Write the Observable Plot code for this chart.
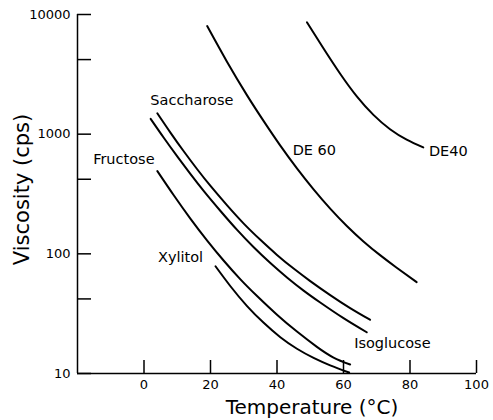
<!DOCTYPE html>
<html><head><meta charset="utf-8">
<script src="https://cdn.jsdelivr.net/npm/d3@7"></script>
<script src="https://cdn.jsdelivr.net/npm/@observablehq/plot@0.6"></script>
<style>body{margin:0;background:#fff} #chart{width:493px;height:420px}</style>
</head><body><div id="chart"></div>
<script>
// Temperature (°C), viscosity (cps)
const de40 = [[49,8600],[54,5200],[59,3200],[64,2070],[69,1450],[74,1100],[79,900],[84,775]];
const de60 = [[19,8000],[25,4010],[31,2110],[36,1285],[41,802],[46,518],[51,346],[56,239],[61,171],[66,127],[71,97.5],[76,76.6],[82,58]];
const saccharose = [[4,1496],[8,1026],[12,716],[16,509],[20,369],[25,254],[30,179],[35,131],[40,98],[45,75.3],[50,59.2],[56,45.2],[62,35.2],[68,28.1]];
const isoglucose = [[2,1343],[6,929],[10,652],[14,463],[18,334],[23,228],[28,158.5],[33,113.5],[38,83.8],[43,63.5],[48,49.3],[53,39.2],[60,29],[67,22.1]];
const fructose = [[4,492],[9,307],[14,196],[19,129],[24,87.5],[29,61.2],[34,44.4],[40,31],[46,22.4],[52,16.7],[57,13.6],[62,11.9]];
const xylitol = [[21.5,78.7],[26,53.6],[31,36.6],[36,26.5],[41,20.1],[46,16.1],[51,13.5],[56,11.7],[61.7,10.2]];

const seriesNames = ["DE 40","DE 60","Saccharose","Isoglucose","Fructose","Xylitol"];
const seriesData = [de40, de60, saccharose, isoglucose, fructose, xylitol];

// label anchors (temperature, viscosity)
const labelText = ["DE40","DE 60","Saccharose","Isoglucose","Fructose","Xylitol"];
const labelT = [85.7, 44.7, 1.9, 63.2, -15.3, 4.2];
const labelV = [714, 730, 1910, 17.9, 610, 93.5];

const xDomain = [-20, 100];
const yDomain = [10, 10000];
const xTicks = [0, 20, 40, 60, 80, 100];
const yMajor = [10, 100, 1000, 10000];
const yMinor = [42, 420, 4200];

const rows = seriesData.flatMap((pts, i) => pts.map(([t, v]) => ({series: seriesNames[i], t, v})));
const labels = labelText.map((text, i) => ({text, t: labelT[i], v: labelV[i]}));

const W = 493, H = 420, mL = 77, mR = 17, mT = 14, mB = 47;
const frameW = W - mL - mR, frameH = H - mT - mB;

const chart = Plot.plot({
  width: W, height: H,
  marginLeft: mL, marginRight: mR, marginTop: mT, marginBottom: mB,
  x: {domain: xDomain},
  y: {type: "log", domain: yDomain},
  style: {fontFamily: "DejaVu Sans", fontSize: "13px", color: "#000", background: "#fff"},
  marks: [
    Plot.ruleX([xDomain[0]], {stroke: "#000", strokeWidth: 1.5}),
    Plot.ruleY([yDomain[0]], {stroke: "#000", strokeWidth: 1.5}),
    // inward tick marks
    Plot.tickX(xTicks, {x: d => d, insetTop: frameH - 13, stroke: "#000", strokeWidth: 1.5}),
    Plot.tickY([...yMajor, ...yMinor], {y: d => d, insetRight: frameW - 14, stroke: "#000", strokeWidth: 1.5}),
    // tick labels
    Plot.axisX({ticks: xTicks, tickSize: 0, tickPadding: 6, tickFormat: d => String(d), label: null}),
    Plot.axisY({ticks: yMajor, tickSize: 0, tickPadding: 7, tickFormat: d => String(d), label: null}),
    Plot.line(rows, {x: "t", y: "v", z: "series", curve: "natural", stroke: "#000", strokeWidth: 2}),
    Plot.text(labels, {x: "t", y: "v", text: "text", textAnchor: "start", fontSize: 14.5}),
    Plot.text(["Viscosity (cps)"], {frameAnchor: "left", textAnchor: "middle", lineAnchor: "middle", dx: -55.5, dy: -4.5, rotate: -90, fontSize: 21}),
    Plot.text(["Temperature (°C)"], {frameAnchor: "bottom", textAnchor: "middle", lineAnchor: "middle", dx: 35, dy: 34, fontSize: 20})
  ]
});
document.getElementById("chart").appendChild(chart);
</script>
</body></html>
